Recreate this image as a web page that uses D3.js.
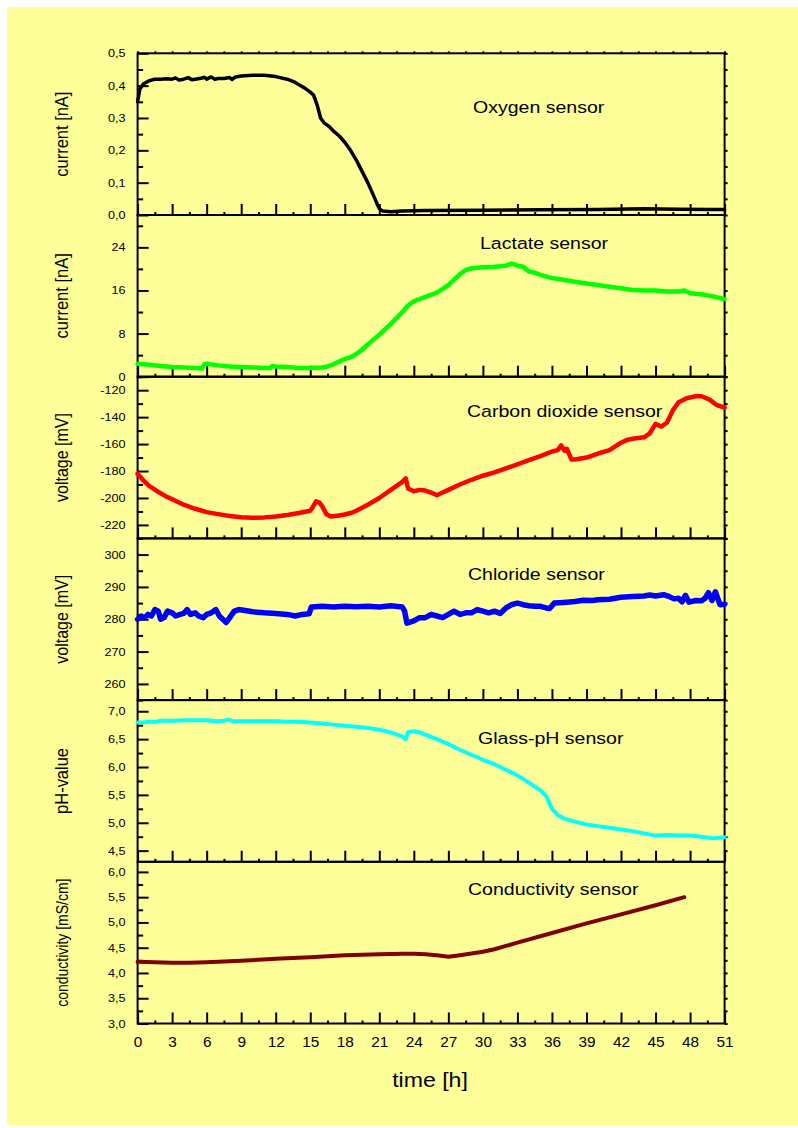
<!DOCTYPE html>
<html>
<head>
<meta charset="utf-8">
<script src="https://cdn.jsdelivr.net/npm/d3@7"></script>
<style>
  body { margin: 0; background: #fff; }
  svg { display: block; font-family: "Liberation Sans", Arial, sans-serif; }
</style>
</head>
<body>
<svg id="chart" width="798" height="1128"></svg>
<script>
// time axis
var hourTicks = d3.range(0, 52, 3);
var hourMinorTicks = d3.range(1.5, 51, 3);

// [time h, value]
var oxygen = [[0,0.35],[0.2,0.39],[0.5,0.405],[1,0.415],[1.5,0.42],[2,0.42],[2.5,0.421],[3,0.42],[3.3,0.424],[3.6,0.417],
  [4,0.42],[4.4,0.425],[4.7,0.418],[5,0.42],[5.5,0.423],[5.8,0.426],[6,0.42],[6.4,0.427],[6.7,0.42],[7,0.422],[7.5,0.422],
  [8,0.425],[8.2,0.419],[8.5,0.427],[9,0.43],[10,0.432],[11,0.432],[12,0.428],[13,0.42],[13.7,0.41],[14.5,0.393],[15,0.38],
  [15.3,0.37],[15.6,0.34],[15.9,0.3],[16.2,0.285],[16.6,0.275],[17,0.26],[17.5,0.245],[18,0.225],[18.5,0.2],[19,0.17],
  [19.5,0.135],[20,0.1],[20.5,0.06],[20.8,0.035],[21,0.02],[21.3,0.012],[22,0.01],[23,0.012],[25,0.014],[30,0.015],
  [35,0.016],[40,0.017],[44,0.019],[47,0.018],[50,0.017],[51,0.017]];

var lactate = [[0,2.4],[1,2.2],[2,2.0],[3,1.8],[4,1.7],[5,1.6],[5.6,1.5],[5.8,2.3],[6,2.4],[7,2.1],[8,1.9],[9,1.8],[10,1.7],
  [11,1.6],[11.5,1.6],[11.7,2.0],[12,1.9],[13,1.8],[14,1.6],[15,1.6],[16,1.7],[16.5,1.9],[17,2.3],[17.5,2.8],[18,3.3],
  [18.5,3.6],[19,4.2],[19.5,5.0],[20,6.0],[21,7.8],[22,9.8],[23,12],[23.5,13.2],[24,14.0],[25,14.8],[26,15.6],[26.5,16.3],
  [27,17.0],[27.5,18.0],[28,19.0],[28.5,19.8],[29,20.1],[30,20.3],[31,20.4],[32,20.6],[32.5,21.0],[33,20.6],[33.5,20.4],
  [34,19.5],[34.5,19.3],[35,18.9],[36,18.3],[37,18.0],[38,17.6],[39,17.3],[40,17.0],[41,16.7],[42,16.4],[43,16.1],
  [44,16.0],[45,16.0],[46,15.8],[47,15.8],[47.5,16.0],[48,15.5],[49,15.3],[50,14.9],[51,14.4]];

var carbonDioxide = [[0,-182],[0.5,-187],[1,-191],[1.7,-195],[2.5,-199],[3,-201],[4,-205],[5,-208],[6,-210.5],[7,-212],
  [8,-213.4],[9,-214.3],[10,-214.7],[11,-214.4],[12,-213.7],[13,-212.6],[14,-211.2],[15,-209.5],[15.2,-207],[15.5,-202.5],
  [15.8,-203.5],[16.1,-207],[16.4,-212],[16.8,-213.7],[17.5,-213],[18,-212.3],[18.6,-211],[19,-209.5],[20,-205],[21,-200],
  [22,-194],[23,-188],[23.3,-185.5],[23.5,-193],[24,-195],[24.5,-194],[25,-194.5],[25.5,-196],[26,-198],[26.5,-196],
  [27,-194],[28,-190],[29,-186.5],[30,-183.5],[31,-181],[32,-178],[33,-175],[34,-172],[35,-169],[36,-165.5],[36.5,-164.5],
  [36.8,-161],[37.1,-165],[37.3,-163.5],[37.7,-171.5],[38,-171.5],[39,-170],[40,-167],[41,-164.5],[42,-159],[42.5,-157],
  [43,-156],[44,-155],[44.5,-152],[45,-145],[45.5,-147],[46,-144],[46.5,-135],[47,-129],[47.7,-126],[48.5,-124.5],
  [49,-124.5],[49.7,-127],[50.3,-131],[51,-133]];

var chloride = [[0,280],[0.3,281],[0.6,280.5],[0.9,281.5],[1.2,281],[1.5,283],[1.8,282.5],[2,280],[2.3,280.5],[2.6,282.5],
  [3,282],[3.3,281],[3.7,281.5],[4,281.8],[4.3,283],[4.6,281.5],[5,282],[5.3,281],[5.7,280.5],[6,281.5],[6.4,282],[6.8,283],
  [7.1,281],[7.4,280],[7.7,279],[8,280.5],[8.4,282.5],[8.8,283],[9.2,282.8],[10,282.3],[11,282],[12,281.8],[13,281.5],
  [13.7,281],[14.3,281.5],[14.9,281.7],[15.1,283.8],[16,284],[17,283.8],[18,284],[19,283.9],[20,284],[21,283.8],[22,284.2],
  [23,283.8],[23.2,282.5],[23.4,278.8],[24,279.5],[24.5,280.5],[25,280.5],[25.5,281.5],[26,281],[26.5,280.5],[27,281.5],
  [27.5,282.5],[28,281.5],[28.5,282],[29,282],[29.5,283],[30,282.5],[30.5,282],[31,282.5],[31.5,281.8],[32,283.5],
  [32.5,284.5],[33,285],[33.5,284.5],[34,284.2],[34.5,284],[35,284],[35.5,283.5],[35.8,283.3],[36.2,285],[37,285.2],
  [38,285.5],[38.7,285.9],[39.5,285.8],[40,286],[41,286.2],[42,286.8],[43,287],[44,287.2],[44.5,287.5],[45,287.2],
  [45.7,287.6],[46.2,287],[46.6,286.3],[47,286.5],[47.3,285.4],[47.6,287.4],[47.9,285.3],[48.5,285.8],[49,285.7],
  [49.3,286.5],[49.6,288.2],[49.9,285.8],[50.2,288.5],[50.6,284.5],[51,284.6]];

var glassPh = [[0,6.8],[0.5,6.8],[1,6.81],[1.5,6.81],[2,6.83],[3,6.83],[4,6.84],[5,6.84],[6,6.84],[7,6.82],[7.5,6.83],
  [7.9,6.85],[8.3,6.82],[9,6.82],[10,6.82],[11,6.82],[12,6.82],[13,6.81],[14,6.81],[15,6.8],[16,6.78],[17,6.76],[18,6.74],
  [19,6.72],[20,6.7],[21,6.67],[22,6.62],[23,6.55],[23.3,6.5],[23.5,6.63],[24,6.64],[24.5,6.62],[25,6.58],[26,6.5],
  [27,6.41],[28,6.31],[29,6.22],[30,6.13],[31,6.05],[32,5.95],[33,5.85],[34,5.72],[35,5.58],[35.5,5.48],[36,5.25],
  [36.5,5.14],[37,5.08],[38,5.02],[39,4.97],[40,4.94],[41,4.91],[42,4.88],[43,4.85],[44,4.81],[45,4.77],[46,4.78],
  [47,4.77],[48,4.77],[49,4.75],[50,4.72],[51,4.74]];

var conductivity = [[0,4.22],[1.5,4.21],[3,4.2],[4.5,4.2],[6,4.21],[9,4.24],[12,4.28],[15,4.31],[18,4.35],[21,4.37],
  [23,4.38],[24,4.38],[25,4.37],[26,4.35],[27,4.32],[28,4.35],[30,4.42],[31,4.47],[33,4.6],[36,4.79],[39,4.98],
  [42,5.16],[45,5.34],[47.5,5.5]];

// y ticks per panel
var oxygenTicks = [0, 0.1, 0.2, 0.3, 0.4, 0.5];
var lactateTicks = [0, 8, 16, 24];
var carbonDioxideTicks = [-220, -200, -180, -160, -140, -120];
var chlorideTicks = [260, 270, 280, 290, 300];
var glassPhTicks = [4.5, 5.0, 5.5, 6.0, 6.5, 7.0];
var conductivityTicks = [3.0, 3.5, 4.0, 4.5, 5.0, 5.5, 6.0];

var panelNames = ['Oxygen sensor', 'Lactate sensor', 'Carbon dioxide sensor', 'Chloride sensor', 'Glass-pH sensor', 'Conductivity sensor'];
var yTitles = ['current [nA]', 'current [nA]', 'voltage [mV]', 'voltage [mV]', 'pH-value', 'conductivity [mS/cm]'];

var locale = d3.formatLocale({ decimal: ',', thousands: '.', grouping: [3], currency: ['', ''], minus: '-' });
var fmtDec = locale.format('.1f');
var fmtInt = locale.format('d');

var panels = [
    { data: oxygen, ticks: oxygenTicks, domain: [0, 0.5], fmt: fmtDec, color: '#000000', width: 3.5, titleX: 473, titleY: 113, yTitleSize: 16.5 },
    { data: lactate, ticks: lactateTicks, domain: [0, 30], fmt: fmtInt, color: '#00ff00', width: 4.5, titleX: 480, titleY: 249, yTitleSize: 16.5 },
    { data: carbonDioxide, ticks: carbonDioxideTicks, domain: [-230, -110], fmt: fmtInt, color: '#ff0000', width: 4.5, titleX: 467, titleY: 417, yTitleSize: 16 },
    { data: chloride, ticks: chlorideTicks, domain: [255, 305], fmt: fmtInt, color: '#0000ff', width: 5.5, titleX: 468, titleY: 580, yTitleSize: 16 },
    { data: glassPh, ticks: glassPhTicks, domain: [4.3, 7.2], fmt: fmtDec, color: '#00ffff', width: 4, titleX: 478, titleY: 744, yTitleSize: 16.5 },
    { data: conductivity, ticks: conductivityTicks, domain: [3.0, 6.2], fmt: fmtDec, color: '#800000', width: 4, titleX: 468, titleY: 895, yTitleSize: 14 }
];

var LEFT = 137.6;
var RIGHT = 724.6;
var TOP = 53.3;
var PANEL_H = 161.7;
var TEXT_STRETCH = 1.15;

var svg = d3.select('#chart');

svg.append('rect')
    .attr('x', 7).attr('y', 7)
    .attr('width', 791).attr('height', 1118)
    .attr('fill', '#ffff99');

var x = d3.scaleLinear().domain([0, 51]).range([LEFT, RIGHT]);

function minorTicks(ticks, domain) {
    var step = ticks[1] - ticks[0];
    return d3.range(ticks[0] - step / 2, domain[1] + 1e-9, step).filter(function(v) {
        return v >= domain[0] - 1e-9;
    });
}

function styleAxis(g) {
    g.select('.domain').remove();
    g.selectAll('line').attr('stroke', '#000').attr('stroke-width', 2);
}

panels.forEach(function(p, i) {
    var y0 = TOP + i * PANEL_H;
    var y = d3.scaleLinear().domain(p.domain).range([y0 + PANEL_H, y0]);
    var g = svg.append('g');
    var minors = minorTicks(p.ticks, p.domain);

    // left axis: major with labels, then minor
    var leftMajor = g.append('g')
        .attr('transform', 'translate(' + LEFT + ',0)')
        .call(d3.axisLeft(y).tickValues(p.ticks).tickSize(-11).tickFormat(p.fmt));
    styleAxis(leftMajor);
    leftMajor.attr('font-size', 11).attr('font-family', null);
    leftMajor.selectAll('text')
        .attr('x', -12 / TEXT_STRETCH)
        .attr('fill', '#000')
        .attr('transform', 'scale(' + TEXT_STRETCH + ',1)');

    var leftMinor = g.append('g')
        .attr('transform', 'translate(' + LEFT + ',0)')
        .call(d3.axisLeft(y).tickValues(minors).tickSize(-5.5).tickFormat(''));
    styleAxis(leftMinor);

    // right side: short outward ticks
    var rightTicks = g.append('g')
        .attr('transform', 'translate(' + RIGHT + ',0)')
        .call(d3.axisRight(y).tickValues(p.ticks.concat(minors)).tickSize(3).tickFormat(''));
    styleAxis(rightTicks);

    // bottom ticks, inward
    var bottomMajor = g.append('g')
        .attr('transform', 'translate(0,' + (y0 + PANEL_H) + ')')
        .call(d3.axisBottom(x).tickValues(hourTicks).tickSize(-11).tickFormat(i === panels.length - 1 ? fmtInt : ''));
    styleAxis(bottomMajor);
    bottomMajor.attr('font-size', 14).attr('font-family', null);
    bottomMajor.selectAll('text')
        .attr('y', 24).attr('dy', null)
        .attr('fill', '#000')
        .attr('transform', 'scale(1.1,1)');

    var bottomMinor = g.append('g')
        .attr('transform', 'translate(0,' + (y0 + PANEL_H) + ')')
        .call(d3.axisBottom(x).tickValues(hourMinorTicks).tickSize(-3).tickFormat(''));
    styleAxis(bottomMinor);

    if (i === 0) {
        var topTicks = g.append('g')
            .attr('transform', 'translate(0,' + y0 + ')')
            .call(d3.axisTop(x).tickValues(hourTicks.concat(hourMinorTicks)).tickSize(2).tickFormat(''));
        styleAxis(topTicks);
    }

    // frame
    g.append('rect')
        .attr('x', LEFT).attr('y', y0)
        .attr('width', RIGHT - LEFT).attr('height', PANEL_H)
        .attr('fill', 'none')
        .attr('stroke', '#000')
        .attr('stroke-width', 2);

    // sensor trace
    var line = d3.line()
        .x(function(d) { return x(d[0]); })
        .y(function(d) { return y(d[1]); });

    g.append('path')
        .datum(p.data)
        .attr('d', line)
        .attr('fill', 'none')
        .attr('stroke', p.color)
        .attr('stroke-width', p.width)
        .attr('stroke-linejoin', 'round')
        .attr('stroke-linecap', 'round');

    // panel title
    g.append('text')
        .attr('transform', 'translate(' + p.titleX + ',' + p.titleY + ') scale(' + TEXT_STRETCH + ',1)')
        .attr('font-size', 17)
        .attr('fill', '#000')
        .text(panelNames[i]);

    // y axis title (glyphs widened like the rest of the figure)
    g.append('text')
        .attr('transform', 'translate(68,' + (y0 + PANEL_H / 2) + ') rotate(-90) scale(1,' + TEXT_STRETCH + ')')
        .attr('text-anchor', 'middle')
        .attr('font-size', p.yTitleSize)
        .attr('fill', '#000')
        .text(yTitles[i]);
});

svg.append('text')
    .attr('transform', 'translate(430,1087) scale(1.1,1)')
    .attr('text-anchor', 'middle')
    .attr('font-size', 21)
    .attr('fill', '#000')
    .text('time [h]');
</script>
</body>
</html>
